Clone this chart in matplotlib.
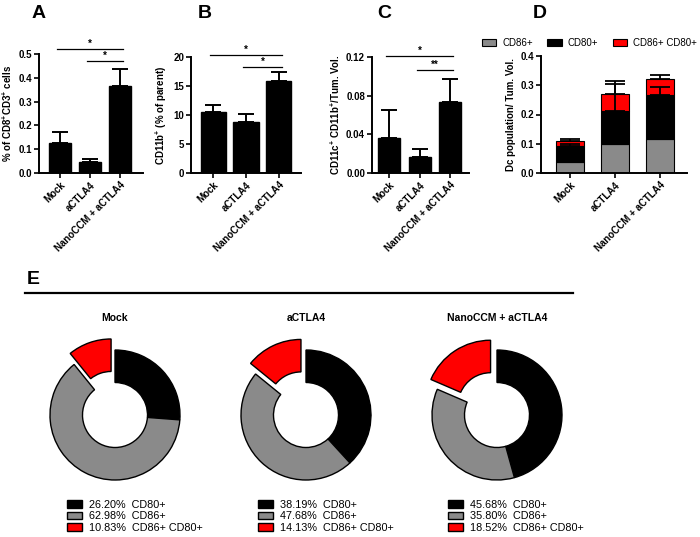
import matplotlib
matplotlib.use('Agg')
import matplotlib.pyplot as plt
import numpy as np

plt.rcParams['font.family'] = ['Liberation Sans', 'DejaVu Sans']
plt.rcParams['mathtext.default'] = 'regular'

W, H = 700, 537
fig = plt.figure(figsize=(7, 5.37), dpi=100)

def box(l, t, r, b):
    return [l / W, 1 - b / H, (r - l) / W, (b - t) / H]

# ---------------- data ----------------
groups = ['Mock', 'aCTLA4', 'NanoCCM + aCTLA4']

cd8_mean = [0.128, 0.045, 0.365]
cd8_upper = [0.172, 0.058, 0.435]

cd11b_mean = [10.5, 8.8, 15.9]
cd11b_upper = [11.8, 10.2, 17.4]

cd11c_mean = [0.036, 0.017, 0.073]
cd11c_upper = [0.065, 0.025, 0.097]

dc_cd86 = [0.037, 0.099, 0.117]
dc_cd80_top = [0.092, 0.213, 0.267]
dc_double_top = [0.109, 0.269, 0.320]
dc_cd80_err_top = [0.100, 0.304, 0.295]
dc_double_err_top = [0.115, 0.314, 0.335]

pie_labels = ['CD80+', 'CD86+', 'CD86+ CD80+']
pie_mock = [26.20, 62.98, 10.83]
pie_actla4 = [38.19, 47.68, 14.13]
pie_nano = [45.68, 35.80, 18.52]

GRAY = '#8a8a8a'
RED = '#ff0000'
FS = 7

def style_axes(ax, ylim, yticks, ytl, xlim):
    for s in ['top', 'right']:
        ax.spines[s].set_visible(False)
    for s in ['left', 'bottom']:
        ax.spines[s].set_linewidth(1.4)
    ax.set_ylim(*ylim)
    ax.set_xlim(*xlim)
    ax.set_yticks(yticks)
    ax.set_yticklabels(ytl, fontsize=FS, fontweight='bold')
    ax.set_xticks(np.arange(len(groups)))
    ax.set_xticklabels(groups, rotation=45, ha='right', rotation_mode='anchor',
                       fontsize=FS, fontweight='bold')
    ax.tick_params(axis='both', width=1.2, length=3.5, pad=1.5)

def bar_panel(rect, means, uppers, ylim, yticks, ytl, ylabel, xlim, width, sigs):
    ax = fig.add_axes(rect)
    x = np.arange(len(groups))
    ax.bar(x, means, width, color='black', edgecolor='black', zorder=2)
    err = np.array(uppers) - np.array(means)
    ax.errorbar(x, means, yerr=[np.zeros(3), err], fmt='none', ecolor='black',
                elinewidth=1.4, capsize=6, capthick=1.4, zorder=3)
    style_axes(ax, ylim, yticks, ytl, xlim)
    ax.set_ylabel(ylabel, fontsize=FS, fontweight='bold', labelpad=3)
    for (i, j, y, t) in sigs:
        ax.plot([i - 0.1, j + 0.1], [y, y], color='black', lw=0.9, clip_on=False)
        ax.text((i + j) / 2, y, t, ha='center', va='bottom', fontsize=FS,
                fontweight='bold', clip_on=False)
    return ax

# A
bar_panel(box(39, 54, 143, 173), cd8_mean, cd8_upper, (0, 0.5),
          [0, 0.1, 0.2, 0.3, 0.4, 0.5], ['0.0', '0.1', '0.2', '0.3', '0.4', '0.5'],
          '% of CD8$^{+}$CD3$^{+}$ cells', (-0.7, 2.77), 0.73,
          [(0, 2, 0.52, '*'), (1, 2, 0.47, '*')])
# B
bar_panel(box(191, 57, 301, 173), cd11b_mean, cd11b_upper, (0, 20),
          [0, 5, 10, 15, 20], ['0', '5', '10', '15', '20'],
          'CD11b$^{+}$ (% of parent)', (-0.67, 2.67), 0.76,
          [(0, 2, 20.3, '*'), (1, 2, 18.3, '*')])
# C
bar_panel(box(372, 57, 469, 173), cd11c_mean, cd11c_upper, (0, 0.12),
          [0, 0.04, 0.08, 0.12], ['0.00', '0.04', '0.08', '0.12'],
          'CD11c$^{+}$ CD11b$^{+}$/Tum. Vol.', (-0.56, 2.62), 0.72,
          [(0, 2, 0.121, '*'), (1, 2, 0.107, '**')])

# D stacked
axd = fig.add_axes(box(541, 56, 687, 173))
x = np.arange(3)
wd = 0.62
cd80_seg = np.array(dc_cd80_top) - np.array(dc_cd86)
dbl_seg = np.array(dc_double_top) - np.array(dc_cd80_top)
axd.errorbar(x, dc_cd80_top, yerr=[np.zeros(3), np.array(dc_cd80_err_top) - np.array(dc_cd80_top)],
             fmt='none', ecolor='black', elinewidth=1.3, capsize=7, capthick=1.3, zorder=4)
axd.errorbar(x, dc_double_top, yerr=[np.zeros(3), np.array(dc_double_err_top) - np.array(dc_double_top)],
             fmt='none', ecolor='black', elinewidth=1.3, capsize=7, capthick=1.3, zorder=4)
axd.bar(x, dc_cd86, wd, color=GRAY, edgecolor='black', lw=0.8, label='CD86+', zorder=2)
axd.bar(x, cd80_seg, wd, bottom=dc_cd86, color='black', edgecolor='black', lw=0.8, label='CD80+', zorder=2)
axd.bar(x, dbl_seg, wd, bottom=dc_cd80_top, color=RED, edgecolor='black', lw=0.8,
        label='CD86+ CD80+', zorder=2)
style_axes(axd, (0, 0.4), [0, 0.1, 0.2, 0.3, 0.4], ['0.0', '0.1', '0.2', '0.3', '0.4'], (-0.64, 2.6))
axd.set_ylabel('Dc population/ Tum. Vol.', fontsize=FS, fontweight='bold', labelpad=3)
fig.legend(*axd.get_legend_handles_labels(), loc='center right', ncol=3,
           bbox_to_anchor=(697 / W, 1 - 43 / H), frameon=False, fontsize=7,
           handlelength=1.5, handleheight=0.8, handletextpad=0.6, columnspacing=1.5,
           borderaxespad=0, borderpad=0)

# panel letters
for lt, (px, py) in zip('ABCDE', [(39, 13), (205, 13), (384, 13), (540, 13), (33, 279)]):
    fig.text(px / W, 1 - py / H, lt, fontsize=14, fontweight='bold', ha='center', va='center')

# E separator line
fig.add_artist(plt.Line2D([25 / W, 573 / W], [1 - 293 / H, 1 - 293 / H], color='black', lw=1.6))

# donuts
pie_sets = [('Mock', pie_mock, 115, 67), ('aCTLA4', pie_actla4, 306, 258),
            ('NanoCCM + aCTLA4', pie_nano, 497, 448)]
R = 65
cy = 415
for title, vals, cx, lx in pie_sets:
    lim = 1.4
    s = lim * R
    axp = fig.add_axes(box(cx - s, cy - s, cx + s, cy + s))
    wedges, _ = axp.pie(vals, colors=['black', GRAY, RED], startangle=90, counterclock=False,
                        explode=[0, 0, 0.18], radius=1,
                        wedgeprops=dict(width=0.5, edgecolor='black', linewidth=1.0))
    axp.set_xlim(-lim, lim)
    axp.set_ylim(-lim, lim)
    axp.set_aspect('equal')
    axp.axis('off')
    fig.text(cx / W, 1 - 318 / H, title, fontsize=7.5, fontweight='bold', ha='center', va='center')
    labs = [f'{v:.2f}%  {n}' for v, n in zip(vals, pie_labels)]
    fig.legend(wedges, labs, loc='upper left', bbox_to_anchor=(lx / W, 1 - 500 / H),
               frameon=False, fontsize=7.8, handlelength=1.4, handleheight=0.75,
               handletextpad=0.6, labelspacing=0.12, borderaxespad=0, borderpad=0)

fig.savefig('out.png', dpi=100)
